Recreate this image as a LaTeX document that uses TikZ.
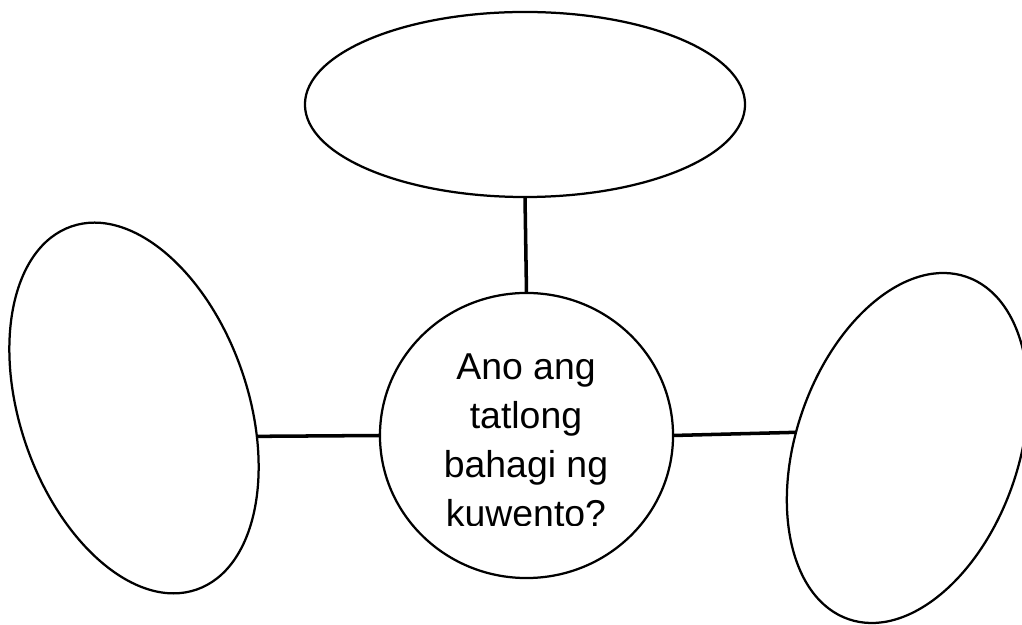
\documentclass[tikz,border=0pt]{standalone}
\usepackage{fontspec}
\setmainfont{Liberation Sans}
\usetikzlibrary{shapes.geometric}

\begin{document}
\begin{tikzpicture}[
  x=0.025cm, y=0.025cm,
  bubble/.style={draw, ellipse, line width=1.6pt, inner sep=0pt, outer sep=0pt},
  link/.style={line width=2.5pt},
  qtext/.style={align=center, font=\fontsize{26.6}{34.9}\selectfont}
]
  \clip (0,0) rectangle (1022,625);
  \node[bubble, minimum width=11cm, minimum height=4.625cm] (top) at (525,520.5) {};
  \node[bubble, minimum width=7.325cm, minimum height=7.125cm] (q) at (526.5,189.5) {};
  \node[bubble, rotate=19, minimum width=5.7cm, minimum height=9.6cm] (lft) at (134,217) {};
  \node[bubble, rotate=-19, minimum width=5.565cm, minimum height=9.05cm] (rgt) at (907.5,177) {};
  \draw[link] (top.south) -- (q.north);
  \draw[link] (lft.-32) -- (q.west);
  \draw[link] (q.east) -- (rgt.191);
  % question, cut off at the bottom
  \begin{scope}
    \clip (380,99.5) rectangle (673,340);
    \node[qtext] (ask) at (526,185) {Ano ang\\tatlong\\bahagi ng\\kuwento?};
  \end{scope}
\end{tikzpicture}
\end{document}
